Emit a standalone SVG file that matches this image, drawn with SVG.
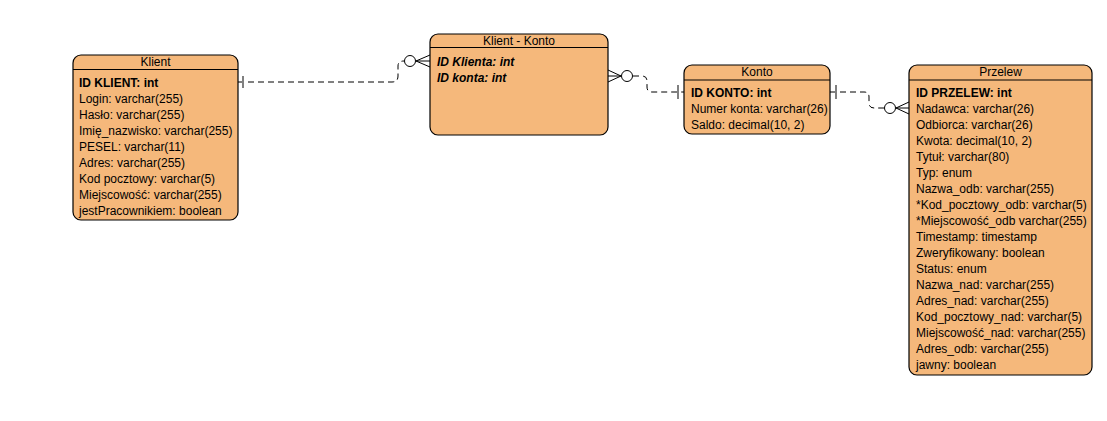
<svg xmlns="http://www.w3.org/2000/svg" width="1107" height="421" viewBox="0 0 1107 421">
<style>
.box{fill:#F5B87B;stroke:#000;stroke-width:1.2}
.hl{stroke:#000;stroke-width:1}
text{font-family:"Liberation Sans",Arial,sans-serif;font-size:12px;fill:#000}
.t{text-anchor:middle}
.b{font-weight:bold}
.bi{font-weight:bold;font-style:italic}
.dash{fill:none;stroke:#000;stroke-width:1;stroke-dasharray:6,4}
.tick{stroke:#808080;stroke-width:2}
.circ{fill:#fff;stroke:#000;stroke-width:1}
.crow{fill:none;stroke:#000;stroke-width:1}
</style>
<rect width="1107" height="421" fill="#fff"/>
<g id="connectors">
  <g id="c1">
    <path class="dash" d="M238,82 L392,82 Q398,82 398,76 L398,66 Q398,61 404,61"/>
    <line class="tick" x1="243" y1="76" x2="243" y2="88"/>
    <circle class="circ" cx="410" cy="61" r="5.5"/>
    <path class="crow" d="M430,55 L416,61 L430,67 M416,61 L430,61"/>
  </g>
  <g id="c2">
    <path class="crow" d="M608,70 L621,76 L608,82 M608,76 L621,76"/>
    <circle class="circ" cx="627" cy="76" r="5.5"/>
    <path class="dash" d="M633,76 L642,76 Q647,76 647,81 L647,87 Q647,92 652,92 L684,92"/>
    <line class="tick" x1="678" y1="85" x2="678" y2="99"/>
  </g>
  <g id="c3">
    <path class="dash" d="M830,92 L864,92 Q869,92 869,97 L869,103 Q869,108 874,108 L884,108"/>
    <line class="tick" x1="836" y1="85" x2="836" y2="99"/>
    <circle class="circ" cx="890" cy="108" r="5.5"/>
    <path class="crow" d="M909,102 L896,108 L909,114 M896,108 L909,108"/>
  </g>
</g>
<g id="klient">
  <rect class="box" x="73" y="55" width="165" height="165" rx="8"/>
  <line class="hl" x1="73" y1="69.5" x2="238" y2="69.5"/>
  <text class="t" x="155.5" y="66">Klient</text>
  <text class="b" x="79" y="86.5">ID KLIENT: int</text>
  <text x="79" y="102.5">Login: varchar(255)</text>
  <text x="79" y="118.5">Hasło: varchar(255)</text>
  <text x="79" y="134.5">Imię_nazwisko: varchar(255)</text>
  <text x="79" y="150.5">PESEL: varchar(11)</text>
  <text x="79" y="166.5">Adres: varchar(255)</text>
  <text x="79" y="182.5">Kod pocztowy: varchar(5)</text>
  <text x="79" y="198.5">Miejscowość: varchar(255)</text>
  <text x="79" y="214.5">jestPracownikiem: boolean</text>
</g>
<g id="klient-konto">
  <rect class="box" x="430" y="34" width="178" height="101" rx="8"/>
  <line class="hl" x1="430" y1="47.5" x2="608" y2="47.5"/>
  <text class="t" x="519" y="45">Klient - Konto</text>
  <text class="bi" x="437" y="65.5">ID Klienta: int</text>
  <text class="bi" x="437" y="81.5">ID konta: int</text>
</g>
<g id="konto">
  <rect class="box" x="684" y="65" width="146" height="69" rx="8"/>
  <line class="hl" x1="684" y1="80" x2="830" y2="80"/>
  <text class="t" x="757" y="76">Konto</text>
  <text class="b" x="691" y="96.5">ID KONTO: int</text>
  <text x="691" y="112.5">Numer konta: varchar(26)</text>
  <text x="691" y="128.5">Saldo: decimal(10, 2)</text>
</g>
<g id="przelew">
  <rect class="box" x="909" y="65" width="183" height="310" rx="8"/>
  <line class="hl" x1="909" y1="80" x2="1092" y2="80"/>
  <text class="t" x="1000.5" y="76">Przelew</text>
  <text class="b" x="916" y="96.5">ID PRZELEW: int</text>
  <text x="916" y="112.5">Nadawca: varchar(26)</text>
  <text x="916" y="128.5">Odbiorca: varchar(26)</text>
  <text x="916" y="144.5">Kwota: decimal(10, 2)</text>
  <text x="916" y="160.5">Tytuł: varchar(80)</text>
  <text x="916" y="176.5">Typ: enum</text>
  <text x="916" y="192.5">Nazwa_odb: varchar(255)</text>
  <text x="916" y="208.5">*Kod_pocztowy_odb: varchar(5)</text>
  <text x="916" y="224.5">*Miejscowość_odb varchar(255)</text>
  <text x="916" y="240.5">Timestamp: timestamp</text>
  <text x="916" y="256.5">Zweryfikowany: boolean</text>
  <text x="916" y="272.5">Status: enum</text>
  <text x="916" y="288.5">Nazwa_nad: varchar(255)</text>
  <text x="916" y="304.5">Adres_nad: varchar(255)</text>
  <text x="916" y="320.5">Kod_pocztowy_nad: varchar(5)</text>
  <text x="916" y="336.5">Miejscowość_nad: varchar(255)</text>
  <text x="916" y="352.5">Adres_odb: varchar(255)</text>
  <text x="916" y="368.5">jawny: boolean</text>
</g>
</svg>
